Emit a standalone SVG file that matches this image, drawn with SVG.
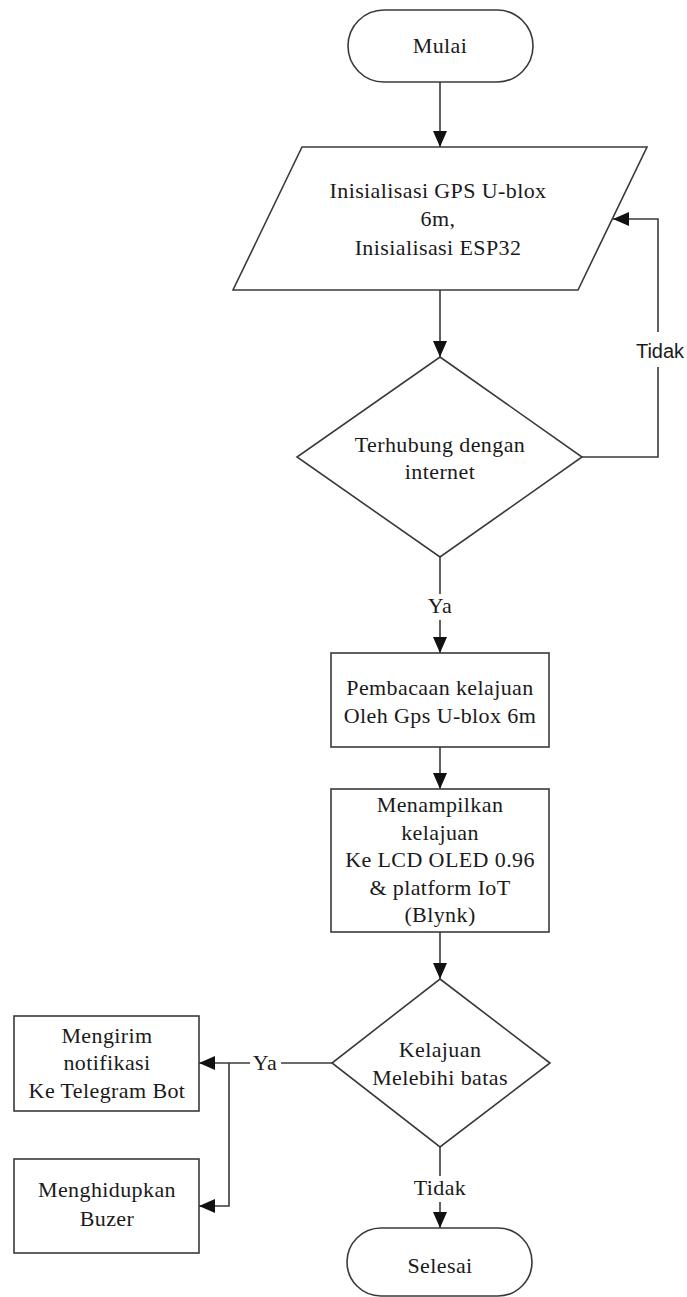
<svg xmlns="http://www.w3.org/2000/svg" width="687" height="1297" viewBox="0 0 687 1297">
<style>
.sh{fill:#ffffff;stroke:#3a3a3a;stroke-width:1.6}
.ln{fill:none;stroke:#3a3a3a;stroke-width:1.6}
.t{font-family:"Liberation Serif","DejaVu Serif","Times New Roman",serif;font-size:22px;letter-spacing:0.4px;fill:#1a1a1a;text-anchor:middle}
.s{font-family:"Liberation Sans",Arial,sans-serif;font-size:20px;fill:#1a1a1a;text-anchor:middle}
</style>
<defs>
<marker id="arr" markerWidth="16" markerHeight="14" refX="16" refY="7" orient="auto" markerUnits="userSpaceOnUse">
<path d="M0,0 L16,7 L0,14 z" fill="#111111"/>
</marker>
</defs>
<rect width="687" height="1297" fill="#ffffff"/>
<g id="connectors">
<path class="ln" d="M440,82 V147" marker-end="url(#arr)"/>
<path class="ln" d="M440,290 V357" marker-end="url(#arr)"/>
<path class="ln" d="M582,457 H658 V367"/>
<path class="ln" d="M658,332 V219 H613" marker-end="url(#arr)"/>
<path class="ln" d="M440,557 V594"/>
<path class="ln" d="M440,620 V653" marker-end="url(#arr)"/>
<path class="ln" d="M440,747 V789" marker-end="url(#arr)"/>
<path class="ln" d="M440,932 V979" marker-end="url(#arr)"/>
<path class="ln" d="M332,1063 H281"/>
<path class="ln" d="M250,1063 H199" marker-end="url(#arr)"/>
<path class="ln" d="M229,1063 V1206 H199" marker-end="url(#arr)"/>
<path class="ln" d="M440,1147 V1176"/>
<path class="ln" d="M440,1202 V1228" marker-end="url(#arr)"/>
<text class="s" x="660" y="358">Tidak</text>
<text class="t" x="440" y="613">Ya</text>
<text class="t" x="265" y="1070">Ya</text>
<text class="t" x="440" y="1195">Tidak</text>
</g>
<g id="mulai">
<rect class="sh" x="348" y="10" width="185" height="72" rx="36"/>
<text class="t" x="440" y="53">Mulai</text>
</g>
<g id="inisialisasi">
<polygon class="sh" points="302,147 647,147 578,290 233,290"/>
<text class="t" x="438" y="198">Inisialisasi GPS U-blox</text>
<text class="t" x="438" y="226">6m,</text>
<text class="t" x="438" y="255">Inisialisasi ESP32</text>
</g>
<g id="terhubung">
<polygon class="sh" points="440,357 582,457 440,557 297,457"/>
<text class="t" x="440" y="452">Terhubung dengan</text>
<text class="t" x="440" y="479">internet</text>
</g>
<g id="pembacaan">
<rect class="sh" x="331" y="653" width="218" height="94"/>
<text class="t" x="440" y="695">Pembacaan kelajuan</text>
<text class="t" x="440" y="723">Oleh Gps U-blox 6m</text>
</g>
<g id="menampilkan">
<rect class="sh" x="331" y="789" width="218" height="143"/>
<text class="t" x="440" y="812">Menampilkan</text>
<text class="t" x="440" y="840">kelajuan</text>
<text class="t" x="440" y="867">Ke LCD OLED 0.96</text>
<text class="t" x="440" y="895">&amp; platform IoT</text>
<text class="t" x="440" y="922">(Blynk)</text>
</g>
<g id="kelajuan">
<polygon class="sh" points="440,979 550,1063 440,1147 332,1063"/>
<text class="t" x="440" y="1057">Kelajuan</text>
<text class="t" x="440" y="1085">Melebihi batas</text>
</g>
<g id="mengirim">
<rect class="sh" x="14" y="1016" width="185" height="95"/>
<text class="t" x="107" y="1043">Mengirim</text>
<text class="t" x="107" y="1070">notifikasi</text>
<text class="t" x="107" y="1098">Ke Telegram Bot</text>
</g>
<g id="buzer">
<rect class="sh" x="14" y="1159" width="185" height="94"/>
<text class="t" x="107" y="1197">Menghidupkan</text>
<text class="t" x="107" y="1226">Buzer</text>
</g>
<g id="selesai">
<rect class="sh" x="347" y="1228" width="185" height="68" rx="34"/>
<text class="t" x="440" y="1273">Selesai</text>
</g>
</svg>
